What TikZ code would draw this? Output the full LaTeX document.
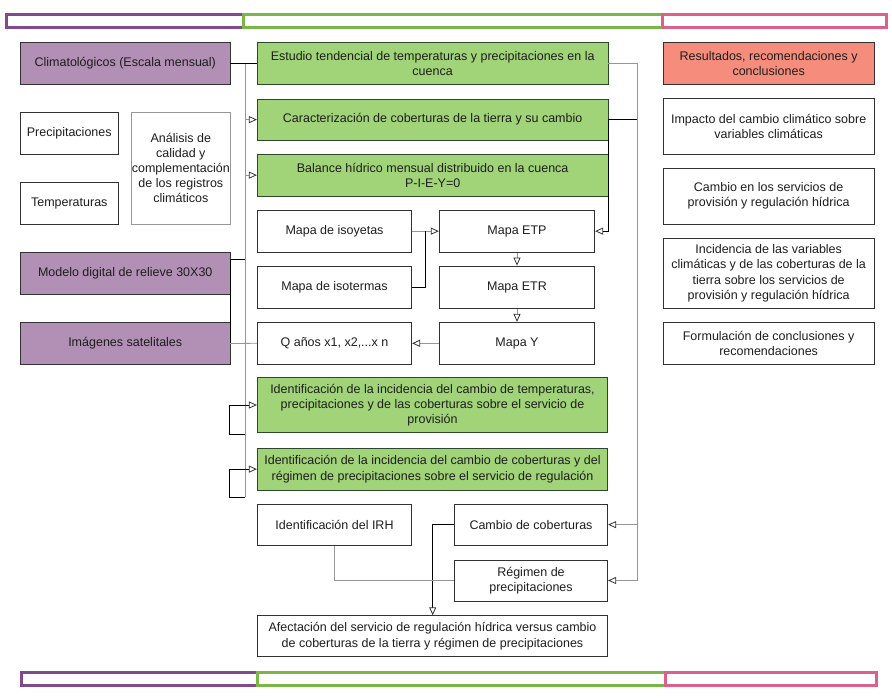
\documentclass[tikz,border=0pt]{standalone}
\usepackage{fontspec}
\setmainfont{Liberation Sans}
\usetikzlibrary{arrows.meta,calc}
\definecolor{purfill}{RGB}{178,143,180}
\definecolor{grnfill}{RGB}{161,211,120}
\definecolor{salfill}{RGB}{245,140,124}
\definecolor{barpur}{RGB}{128,74,140}
\definecolor{bargrn}{RGB}{122,182,72}
\definecolor{barpnk}{RGB}{220,96,138}
\definecolor{txt}{RGB}{30,30,30}
\definecolor{edge}{RGB}{50,50,50}
\definecolor{gline}{RGB}{150,150,150}
\newcommand\mkbox[7]{\node[#6, minimum width={(#4-#2)*1pt}, minimum height={(#5-#3)*1pt}] (#1) at ({(#2+#4)/2},{(#3+#5)/2}) {#7};}
\tikzset{
  base/.style={draw=edge, line width=0.8pt, align=center, inner sep=0.5pt, text=txt, font=\fontsize{12.5}{15.2}\selectfont},
  wbox/.style={base, fill=white},
  gbox/.style={base, fill=white, draw=gline},
  pbox/.style={base, fill=purfill},
  grbox/.style={base, fill=grnfill, draw=edge!90!green},
  sbox/.style={base, fill=salfill},
  bar/.style={line width=3pt, fill=white},
  ln/.style={draw=black, line width=0.8pt},
  gl/.style={draw=gline, line width=0.8pt},
  tip/.style={-{Triangle[open,length=8pt,width=7pt,color=edge]}}
}
\begin{document}
\begin{tikzpicture}[x=1pt,y=-1pt]
\useasboundingbox (0,0) rectangle (892,698);
% bars top
\draw[bar, draw=barpur] (6.5,14.5) rectangle (243,27.5);
\draw[bar, draw=bargrn] (243,14.5) rectangle (662,27.5);
\draw[bar, draw=barpnk] (662,14.5) rectangle (886.5,27.5);
% bars bottom
\draw[bar, draw=barpur] (21.5,672.5) rectangle (257,685.5);
\draw[bar, draw=bargrn] (257,672.5) rectangle (665,685.5);
\draw[bar, draw=barpnk] (665,672.5) rectangle (876.5,685.5);
% left column
\mkbox{clim}{20.5}{42.3}{230}{84.3}{pbox}{Climatológicos (Escala mensual)}
\mkbox{prec}{20.5}{112}{118}{154}{wbox}{Precipitaciones}
\mkbox{temp}{20.5}{182}{118}{224}{wbox}{Temperaturas}
\mkbox{anal}{131.7}{112}{230}{224}{gbox}{Análisis de\\calidad y\\complementación\\de los registros\\climáticos}
\mkbox{mde}{20.5}{252.3}{230}{294}{pbox}{Modelo digital de relieve 30X30}
\mkbox{img}{20.5}{322.7}{230}{364.3}{pbox}{Imágenes satelitales}
% middle column
\mkbox{est}{257.3}{42.3}{608}{84.3}{grbox}{Estudio tendencial de temperaturas y precipitaciones en la\\cuenca}
\mkbox{car}{257.3}{99}{608}{140.3}{grbox}{Caracterización de coberturas de la tierra y su cambio}
\mkbox{bal}{257.3}{154.3}{608}{196}{grbox}{Balance hídrico mensual distribuido en la cuenca\\P-I-E-Y=0}
\mkbox{iso}{257.3}{210}{411.7}{252.3}{wbox}{Mapa de isoyetas}
\mkbox{etp}{439.3}{210}{594.7}{252.3}{wbox}{Mapa ETP}
\mkbox{ist}{257.3}{266}{411.7}{308.3}{wbox}{Mapa de isotermas}
\mkbox{etr}{439.3}{266}{594.7}{308.3}{wbox}{Mapa ETR}
\mkbox{q}{257.3}{322.3}{411.7}{364.3}{wbox}{Q años x1, x2,...x n}
\mkbox{my}{439.3}{322.3}{594.7}{364.3}{wbox}{Mapa Y}
\mkbox{ida}{257.3}{377.3}{607.7}{432.7}{grbox}{Identificación de la incidencia del cambio de temperaturas,\\precipitaciones y de las coberturas sobre el servicio de\\provisión}
\mkbox{idb}{257.3}{448.3}{607.7}{490}{grbox}{Identificación de la incidencia del cambio de coberturas y del\\régimen de precipitaciones sobre el servicio de regulación}
\mkbox{irh}{257.3}{504}{411.7}{545.3}{wbox}{Identificación del IRH}
\mkbox{cc}{454.3}{504}{607.7}{545.3}{wbox}{Cambio de coberturas}
\mkbox{reg}{454.3}{560}{607.7}{601}{wbox}{Régimen de\\precipitaciones}
\mkbox{af}{257.3}{615.7}{607.7}{656.7}{wbox}{Afectación del servicio de regulación hídrica versus cambio\\de coberturas de la tierra y régimen de precipitaciones}
% right column
\mkbox{res}{663.3}{42.3}{874}{84}{sbox}{Resultados, recomendaciones y\\conclusiones}
\mkbox{imp}{663.3}{98.3}{874}{154.3}{wbox}{Impacto del cambio climático sobre\\variables climáticas}
\mkbox{cam}{663.3}{168.3}{874}{224}{wbox}{Cambio en los servicios de\\provisión y regulación hídrica}
\mkbox{inc}{663.3}{238.3}{874}{308.3}{wbox}{Incidencia de las variables\\climáticas y de las coberturas de la\\tierra sobre los servicios de\\provisión y regulación hídrica}
\mkbox{form}{663.3}{322.3}{874}{364}{wbox}{Formulación de conclusiones y\\recomendaciones}
% coordinates
\coordinate (vtop) at (245,63.3);
\coordinate (vbot) at (245,497);
\coordinate (mj) at (230,259);
\coordinate (fa1) at (245,434);
\coordinate (fa2) at (229,434);
\coordinate (fa3) at (229,405);
\coordinate (fb1) at (245,497);
\coordinate (fb2) at (229,497);
\coordinate (fb3) at (229,469.15);
\coordinate (rtop) at (637,63.3);
\coordinate (rbot) at (637,580.5);
\coordinate (cj) at (608,119.65);
\coordinate (tj) at (425.7,287.15);
\coordinate (bj) at (432.7,524.65);
% left connectors
\draw[gl] (vtop) -- (vbot);
\draw[ln] (clim.east) -- (est.west);
\draw[gl, tip] (vtop |- car.west) -- (car.west);
\draw[gl, tip] (vtop |- bal.west) -- (bal.west);
\draw[ln] (mj) -- (mj -| vtop);
\draw[ln] (mj) -- (mj |- img.east);
\draw[gl] (mj |- img.east) -- (q.west);
\draw[ln] (fa1) -- (fa2) -- (fa3);
\draw[ln, tip] (fa3) -- (ida.west);
\draw[ln] (fb1) -- (fb2) -- (fb3);
\draw[ln, tip] (fb3) -- (idb.west);
% right connectors
\draw[gl] (est.east) -- (rtop) -- (rbot);
\draw[gl, tip] (rtop |- cc.east) -- (cc.east);
\draw[gl, tip] (rbot) -- (reg.east);
\draw[ln] (car.east) -- (car.east -| rtop);
\draw[ln, tip] (cj) -- (cj |- etp.east) -- (etp.east);
% maps
\draw[gl, tip] (iso.east) -- (etp.west);
\draw[ln] (ist.east) -- (tj) -- (tj |- iso.east);
\draw[gl, tip] (etp.south) -- (etr.north);
\draw[gl, tip] (etr.south) -- (my.north);
\draw[gl, tip] (my.west) -- (q.east);
% bottom
\draw[ln, tip] (cc.west) -- (bj) -- (bj |- af.north);
\draw[gl] (irh.south) -- (irh.south |- reg.west) -- (reg.west);
\end{tikzpicture}
\end{document}
